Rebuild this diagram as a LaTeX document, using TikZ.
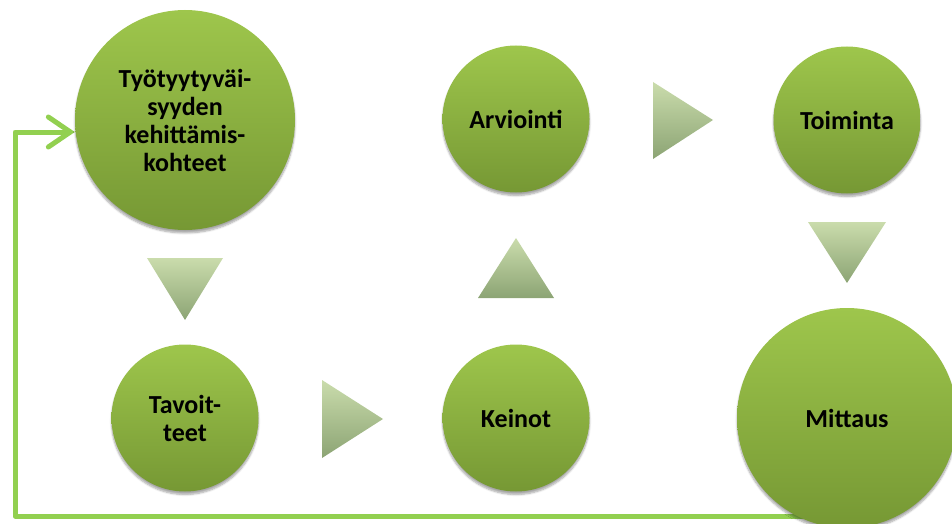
\documentclass[tikz,border=0pt]{standalone}
\usepackage{fontspec}
\setmainfont{Carlito}
\usetikzlibrary{arrows.meta,shadows.blur,backgrounds}
\definecolor{ballTop}{RGB}{158,198,76}
\definecolor{ballBot}{RGB}{118,152,52}
\definecolor{triTop}{RGB}{202,220,172}
\definecolor{triBot}{RGB}{140,164,116}
\definecolor{loopGreen}{RGB}{146,208,80}
\tikzset{
  ball/.style={circle, inner sep=0pt, top color=ballTop, bottom color=ballBot,
    align=center, font=\fontsize{26}{28}\selectfont\bfseries, text=black,
    blur shadow={shadow xshift=0pt, shadow yshift=-3pt, shadow blur steps=6, shadow opacity=35}},
  smallball/.style={ball, minimum size=147pt},
  bigball/.style={ball, minimum size=220pt},
  pointer/.style={top color=triTop, bottom color=triBot, draw=none},
  feedback/.style={draw=loopGreen, line width=5pt, line join=round,
    -{Straight Barb[length=22pt,width=30pt,line cap=round]}}
}
\begin{document}
\begin{tikzpicture}[x=1pt,y=-1pt]
  \useasboundingbox (0,0) rectangle (952,524);
  \clip (0,0) rectangle (952,524);

  % circles
  \node[bigball] (tyo) at (185,120) {Työtyytyväi-\\syyden\\kehittämis-\\kohteet};
  \node[smallball] (tav) at (185,418) {Tavoit-\\teet};
  \node[smallball] (kei) at (516,418) {Keinot};
  \node[smallball] (arv) at (516,119) {Arviointi};
  \node[smallball] (toi) at (847,120) {Toiminta};
  \node[bigball] (mit) at (847,418) {Mittaus};

  % triangular pointers between the circles
  \shade[pointer] (147,258) -- (223,258) -- (185,320) -- cycle;
  \shade[pointer] (322,380) -- (383,419) -- (322,458) -- cycle;
  \shade[pointer] (478,298) -- (516,238) -- (554,298) -- cycle;
  \shade[pointer] (653,82) -- (713,120) -- (653,159) -- cycle;
  \shade[pointer] (808,222) -- (886,222) -- (847,283) -- cycle;

  % feedback loop from Mittaus back to the first circle, running under the circles
  \coordinate (fb) at (15,516);
  \coordinate (ft) at (15,132);
  \begin{scope}[on background layer]
    \draw[feedback] (mit.248 |- fb) -- (fb) -- (ft) -- (ft -| tyo.west);
  \end{scope}
\end{tikzpicture}
\end{document}
